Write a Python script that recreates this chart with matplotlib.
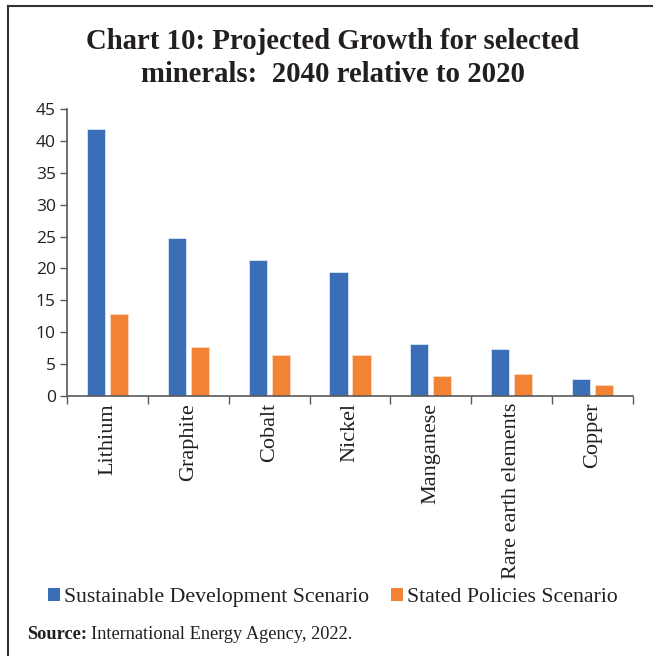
import matplotlib
matplotlib.use("Agg")
import matplotlib.pyplot as plt
import numpy as np
from matplotlib.patches import Patch
from matplotlib.lines import Line2D

categories = ["Lithium", "Graphite", "Cobalt", "Nickel", "Manganese",
              "Rare earth elements", "Copper"]
sds_values = [41.9, 24.7, 21.3, 19.4, 8.1, 7.3, 2.6]
steps_values = [12.8, 7.7, 6.4, 6.5, 3.1, 3.4, 1.7]
series_names = ["Sustainable Development Scenario", "Stated Policies Scenario"]
y_ticks = [0, 5, 10, 15, 20, 25, 30, 35, 40, 45]

blue = "#3A6FB7"
orange = "#F28334"
axis_gray = "#595959"
text_col = "#231F20"

fig = plt.figure(figsize=(6.53, 6.56), dpi=100)
ax = fig.add_axes([0.1026, 0.3963, 0.8668, 0.4375])

x = np.arange(len(categories))
w = 0.225
ax.bar(x - 0.142, sds_values, width=w, color=blue, edgecolor="#dbe6f5", linewidth=0.6, zorder=2)
ax.bar(x + 0.142, steps_values, width=w, color=orange, edgecolor="#fbd9c0", linewidth=0.6, zorder=2)

ax.set_xlim(-0.5, len(categories) - 0.5)
ax.set_ylim(0, 45)
ax.set_yticks(y_ticks)
ax.set_yticklabels([str(t) for t in y_ticks], fontsize=12.5, family="Open Sans", color=text_col)

ax.set_xticks(np.arange(len(categories) + 1) - 0.5, minor=False)
ax.set_xticklabels([])
ax.set_xticks(x, minor=True)
ax.set_xticklabels(categories, minor=True, rotation=90, fontsize=16,
                   family="Liberation Serif", color=text_col, va="top")
ax.tick_params(axis="x", which="minor", length=0, pad=5)
ax.tick_params(axis="x", which="major", length=6, width=1, color=axis_gray, direction="out")
ax.tick_params(axis="y", length=5, width=1, color=axis_gray, direction="out", pad=3)

for s in ["top", "right"]:
    ax.spines[s].set_visible(False)
for s in ["left", "bottom"]:
    ax.spines[s].set_color(axis_gray)
    ax.spines[s].set_linewidth(1.2)

fig.text(0.51, 0.937, "Chart 10: Projected Growth for selected",
         ha="center", va="center", fontsize=20.7, fontweight="bold",
         family="Liberation Serif", color=text_col)
fig.text(0.51, 0.887, "minerals:  2040 relative to 2020",
         ha="center", va="center", fontsize=20.7, fontweight="bold",
         family="Liberation Serif", color=text_col)

handles = [Patch(facecolor=blue, edgecolor="none"), Patch(facecolor=orange, edgecolor="none")]
leg = fig.legend(handles, series_names, loc="center", bbox_to_anchor=(0.51, 0.089),
                 ncol=2, frameon=False, prop={"family": "Liberation Serif", "size": 15.7},
                 handlelength=0.55, handleheight=0.55, handletextpad=0.2, columnspacing=1.0)
for t in leg.get_texts():
    t.set_color(text_col)

fig.text(0.041, 0.033, "Source:", ha="left", va="center", fontsize=13.2,
         fontweight="bold", family="Liberation Serif", color=text_col)
fig.text(0.139, 0.033, "International Energy Agency, 2022.", ha="left", va="center",
         fontsize=13.2, family="Liberation Serif", color=text_col)

# outer frame (top and left)
fig.add_artist(Line2D([0.0123, 1.0], [0.991, 0.991], transform=fig.transFigure,
                      color="#333333", linewidth=1.5))
fig.add_artist(Line2D([0.0123, 0.0123], [0.0, 0.991], transform=fig.transFigure,
                      color="#333333", linewidth=1.5))

fig.savefig("out.png", dpi=100)
